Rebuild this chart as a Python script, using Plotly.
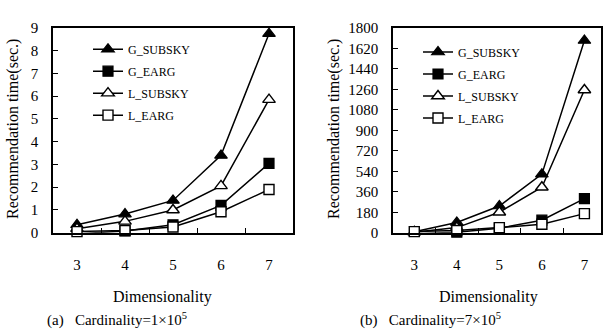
import plotly.graph_objects as go

dims = [3, 4, 5, 6, 7]
series_names = ["G_SUBSKY", "G_EARG", "L_SUBSKY", "L_EARG"]

# (a) Cardinality = 1x10^5 (seconds)
a_g_subsky = [0.35, 0.82, 1.42, 3.4, 8.75]
a_g_earg = [-0.05, 0.08, 0.35, 1.2, 3.05]
a_l_subsky = [0.18, 0.5, 1.0, 2.06, 5.85]
a_l_earg = [0.05, 0.1, 0.25, 0.92, 1.9]

# (b) Cardinality = 7x10^5 (seconds)
b_g_subsky = [8, 90, 235, 515, 1690]
b_g_earg = [-8, 5, 40, 110, 300]
b_l_subsky = [5, 45, 180, 400, 1255]
b_l_earg = [10, 20, 45, 75, 168]

y_ticks_a = [0, 1, 2, 3, 4, 5, 6, 7, 8, 9]
y_ticks_b = [0, 180, 360, 540, 720, 900, 1080, 1260, 1440, 1620, 1800]

styles = [
    dict(symbol="triangle-up", color="black", line=dict(color="black", width=1.2), size=11),
    dict(symbol="square", color="black", line=dict(color="black", width=1.2), size=10),
    dict(symbol="triangle-up", color="white", line=dict(color="black", width=1.4), size=11),
    dict(symbol="square", color="white", line=dict(color="black", width=1.4), size=10),
]

FONT = "Liberation Serif"
fig = go.Figure()

for vals, xa, ya, lg in [
    ([a_g_subsky, a_g_earg, a_l_subsky, a_l_earg], "x", "y", "legend"),
    ([b_g_subsky, b_g_earg, b_l_subsky, b_l_earg], "x2", "y2", "legend2"),
]:
    for name, v, st in zip(series_names, vals, styles):
        fig.add_trace(go.Scatter(
            x=dims, y=v, name=name, mode="lines+markers",
            line=dict(color="black", width=1.5),
            marker=st, xaxis=xa, yaxis=ya, legend=lg,
            legendgroup=lg + name, cliponaxis=False,
        ))

W, H = 603, 335
def px_x(p):
    return p / W
def px_y(p):
    return 1 - p / H

xcommon = dict(
    range=[2.5, 7.5], tickvals=dims, ticktext=[str(d) for d in dims],
    ticks="", showline=True, linecolor="black", linewidth=1.5, mirror=True,
    showgrid=False, zeroline=False, ticklabelstandoff=18,
    tickfont=dict(family=FONT, size=15, color="black"),
    minor=dict(tickvals=[3.5, 4.5, 5.5, 6.5], ticks="inside", ticklen=5,
               tickcolor="black", tickwidth=1, showgrid=False),
)
ycommon = dict(
    ticks="inside", ticklen=5, tickcolor="black", tickwidth=1,
    showline=True, linecolor="black", linewidth=1.5, mirror=True,
    showgrid=False, zeroline=False, ticklabelstandoff=10,
    tickfont=dict(family=FONT, size=15, color="black"),
)

fig.update_layout(
    width=W, height=H, margin=dict(l=0, r=0, t=0, b=0),
    paper_bgcolor="white", plot_bgcolor="white",
    font=dict(family=FONT, color="black"),
    xaxis=dict(domain=[px_x(53), px_x(293)], anchor="y", **xcommon),
    yaxis=dict(domain=[px_y(236), px_y(21)], anchor="x", range=[0, 9],
               tickvals=y_ticks_a, **ycommon),
    xaxis2=dict(domain=[px_x(393), px_x(601)], anchor="y2",
                **{**xcommon, "range": [2.5, 7.39]}),
    yaxis2=dict(domain=[px_y(236), px_y(21)], anchor="x2", range=[0, 1800],
                tickvals=y_ticks_b, **ycommon),
    legend=dict(x=px_x(88), y=px_y(28), xanchor="left", yanchor="top",
                bgcolor="rgba(0,0,0,0)", tracegroupgap=3, itemwidth=30,
                font=dict(family=FONT, size=12, color="black")),
    legend2=dict(x=px_x(418), y=px_y(31), xanchor="left", yanchor="top",
                 bgcolor="rgba(0,0,0,0)", tracegroupgap=3, itemwidth=30,
                 font=dict(family=FONT, size=12, color="black")),
    showlegend=True,
)

annots = [
    dict(text="Recommendation time(sec.)", x=px_x(13), y=px_y(127), textangle=-90, size=16, xa="center"),
    dict(text="Recommendation time(sec.)", x=px_x(334), y=px_y(127), textangle=-90, size=16, xa="center"),
    dict(text="Dimensionality", x=px_x(162), y=px_y(304), textangle=0, size=16, xa="center"),
    dict(text="Dimensionality", x=px_x(488), y=px_y(304), textangle=0, size=16, xa="center"),
    dict(text="(a)   Cardinality=1×10<sup>5</sup>", x=px_x(45), y=px_y(327), textangle=0, size=15, xa="left"),
    dict(text="(b)   Cardinality=7×10<sup>5</sup>", x=px_x(358), y=px_y(327), textangle=0, size=15, xa="left"),
]
for a in annots:
    fig.add_annotation(text=a["text"], x=a["x"], y=a["y"], xref="paper", yref="paper",
                       xanchor=a["xa"], yanchor="middle",
                       showarrow=False, textangle=a["textangle"],
                       font=dict(family=FONT, size=a["size"], color="black"))

fig.write_html("out.html", config={"displayModeBar": False},
               post_script="document.body.style.margin='0';")
